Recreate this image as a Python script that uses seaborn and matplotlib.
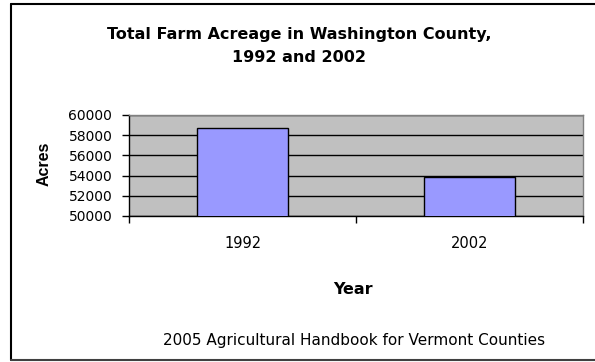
import numpy as np
import pandas as pd
import matplotlib.pyplot as plt
import seaborn as sns
from matplotlib.lines import Line2D

years = ['1992', '2002']
acres = [58750, 53850]
y_ticks = [50000, 52000, 54000, 56000, 58000, 60000]

sns.set_style('white')
# the reference text is a slightly wide Arial, DejaVu Sans matches its widths best
plt.rcParams['font.family'] = ['DejaVu Sans']
plt.rcParams['text.color'] = 'black'
plt.rcParams['xtick.color'] = 'black'
plt.rcParams['ytick.color'] = 'black'

df = pd.DataFrame({'Year': years, 'Acres': acres})

W, H = 595, 362
fig = plt.figure(figsize=(W / 100, H / 100), dpi=100)
ax = fig.add_axes([129 / W, 1 - 216 / H, 454 / W, 101 / H])

sns.barplot(data=df, x='Year', y='Acres', color='#9999FF', width=0.4,
            edgecolor='black', linewidth=1, saturation=1, ax=ax)
for p in ax.patches:
    p.set_zorder(3)

ax.set_facecolor('#C0C0C0')
ax.set_ylim(50000, 60000)
ax.set_xlim(-0.5, 1.5)
ax.set_yticks(y_ticks)
ax.yaxis.grid(True, color='black', linewidth=1)
ax.set_axisbelow(True)

# ticks sit on the category boundaries, labels in the middle
ax.set_xticks([-0.5, 0.5, 1.5])
ax.set_xticklabels([])
ax.tick_params(axis='x', bottom=True, direction='out', length=5, width=1, color='black')
ax.tick_params(axis='y', left=True, direction='out', length=5, width=1, color='black',
               labelsize=10, pad=7, labelcolor='black')
for i, yr in enumerate(years):
    ax.text(i, 1 - (244 - 115) / 101, yr, transform=ax.get_xaxis_transform(),
            ha='center', va='center', fontsize=10.5, color='black')

for s in ['left', 'bottom']:
    ax.spines[s].set_color('black')
    ax.spines[s].set_linewidth(1)
for s in ['top', 'right']:
    ax.spines[s].set_color('#808080')
    ax.spines[s].set_linewidth(1)

ax.set_xlabel('')
ax.set_ylabel('')
fig.text(44 / W, 1 - 164 / H, 'Acres', rotation=90, ha='center', va='center',
         fontsize=11.5, fontweight='bold', family='Liberation Sans')
fig.text(353 / W, 1 - 290 / H, 'Year', ha='center', va='center',
         fontsize=11.5, fontweight='bold')
fig.text(299 / W, 1 - 46 / H, 'Total Farm Acreage in Washington County,\n1992 and 2002',
         ha='center', va='center', fontsize=11.5, fontweight='bold', linespacing=1.6)
fig.text(354 / W, 1 - 341 / H, '2005 Agricultural Handbook for Vermont Counties',
         ha='center', va='center', fontsize=11)

# outer frame (right side falls outside the image)
fig.lines.append(Line2D([11 / W, 11 / W], [1 - 360 / H, 1 - 4 / H], transform=fig.transFigure,
                        color='black', linewidth=1.5))
fig.lines.append(Line2D([11 / W, 1], [1 - 4 / H, 1 - 4 / H], transform=fig.transFigure,
                        color='black', linewidth=1.5))
fig.lines.append(Line2D([11 / W, 1], [1 - 360 / H, 1 - 360 / H], transform=fig.transFigure,
                        color='#404040', linewidth=1.5))

fig.savefig('out.png', dpi=100)
